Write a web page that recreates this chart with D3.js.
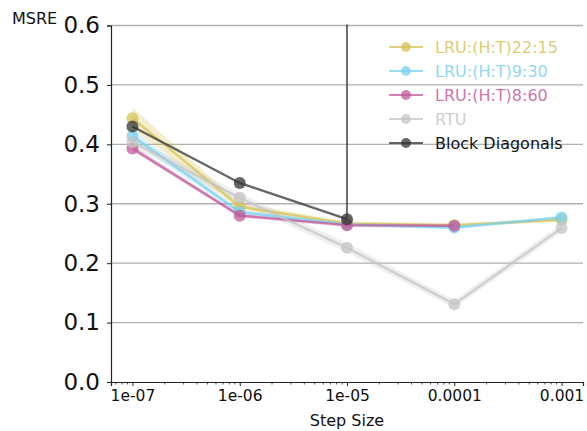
<!DOCTYPE html>
<html>
<head>
<meta charset="utf-8">
<script src="https://cdn.jsdelivr.net/npm/d3@7"></script>
<style>
  html, body { margin: 0; padding: 0; background: #fff; }
  svg { display: block; font-family: "DejaVu Sans", Verdana, sans-serif; }
</style>
</head>
<body>
<svg id="chart" width="587" height="431"></svg>
<script>
// Step sizes on the x axis
const stepSizes = [1e-7, 1e-6, 1e-5, 1e-4, 1e-3];
const xTickLabels = ["1e-07", "1e-06", "1e-05", "0.0001", "0.001"];
const yTicks = [0.0, 0.1, 0.2, 0.3, 0.4, 0.5, 0.6];

// Mean MSRE per step size, with lower / upper band
const lru2215 = [0.444, 0.295, 0.267, 0.264, 0.273];
const lru2215Lo = [0.426, 0.290, 0.264, 0.261, 0.270];
const lru2215Hi = [0.462, 0.301, 0.270, 0.267, 0.276];

const lru930 = [0.414, 0.286, 0.265, 0.260, 0.277];
const lru930Lo = [0.405, 0.282, 0.262, 0.257, 0.274];
const lru930Hi = [0.424, 0.290, 0.268, 0.263, 0.280];

const lru860 = [0.393, 0.280, 0.264, 0.263];
const lru860Lo = [0.389, 0.277, 0.261, 0.260];
const lru860Hi = [0.398, 0.283, 0.267, 0.266];

const rtu = [0.404, 0.310, 0.226, 0.131, 0.259];
const rtuLo = [0.396, 0.302, 0.218, 0.124, 0.252];
const rtuHi = [0.412, 0.318, 0.234, 0.138, 0.266];

const blockDiag = [0.430, 0.335, 0.274];
const blockDiagErrHi = [0.430, 0.335, 0.9];

const series = [
  { name: "LRU:(H:T)22:15", color: "#d6c254", v: lru2215, lo: lru2215Lo, hi: lru2215Hi },
  { name: "LRU:(H:T)9:30", color: "#78d0f0", v: lru930, lo: lru930Lo, hi: lru930Hi },
  { name: "LRU:(H:T)8:60", color: "#c2589a", v: lru860, lo: lru860Lo, hi: lru860Hi },
  { name: "RTU", color: "#c4c4c4", v: rtu, lo: rtuLo, hi: rtuHi },
  { name: "Block Diagonals", color: "#333333", v: blockDiag, lo: null, hi: null, errHi: blockDiagErrHi }
];

const W = 587, H = 431;
const margin = { left: 111, right: 4, top: 25.5, bottom: 49 };
const svg = d3.select("#chart");

const x = d3.scaleLog()
  .domain([Math.pow(10, -7.2), Math.pow(10, -2.8)])
  .range([margin.left, W - margin.right]);
const y = d3.scaleLinear()
  .domain([0, 0.6])
  .range([H - margin.bottom, margin.top]);

svg.append("defs").append("clipPath").attr("id", "plot")
  .append("rect")
  .attr("x", margin.left).attr("y", margin.top - 1)
  .attr("width", W - margin.right - margin.left)
  .attr("height", H - margin.bottom - margin.top + 1);

// horizontal grid
svg.append("g")
  .selectAll("line").data(yTicks.slice(1)).join("line")
  .attr("x1", margin.left).attr("x2", W - margin.right)
  .attr("y1", d => y(d)).attr("y2", d => y(d))
  .attr("stroke", "#b0b0b0").attr("stroke-width", 1.3);

// y axis
const yAxis = svg.append("g")
  .attr("transform", `translate(${margin.left},0)`)
  .call(d3.axisLeft(y).tickValues(yTicks).tickFormat(d3.format(".1f")).tickSize(4).tickPadding(7));
yAxis.select(".domain").attr("stroke", "#222").attr("stroke-width", 1.2);
yAxis.selectAll(".tick line").attr("stroke", "#222");
yAxis.selectAll("text").attr("font-size", 23).attr("fill", "#111")
  .attr("font-family", '"DejaVu Sans", Verdana, sans-serif');

// x axis with log minor ticks
const minorTicks = [];
for (let e = -8; e <= -3; e++) {
  for (let m = 2; m <= 9; m++) {
    const v = m * Math.pow(10, e);
    if (v >= x.domain()[0] && v <= x.domain()[1]) minorTicks.push(v);
  }
}
const xg = svg.append("g").attr("transform", `translate(0,${H - margin.bottom})`);
xg.selectAll("line.minor").data(minorTicks).join("line")
  .attr("class", "minor")
  .attr("x1", d => x(d)).attr("x2", d => x(d))
  .attr("y1", 0).attr("y2", 2.5)
  .attr("stroke", "#222").attr("stroke-width", 0.8);
const xAxis = xg.call(
  d3.axisBottom(x).tickValues(stepSizes).tickFormat((d, i) => xTickLabels[i]).tickSize(4).tickPadding(4)
);
xAxis.select(".domain").attr("stroke", "#222").attr("stroke-width", 1.2);
xAxis.selectAll(".tick line").attr("stroke", "#222");
xAxis.selectAll(".tick text").attr("font-size", 15.5).attr("fill", "#111")
  .attr("font-family", '"DejaVu Sans", Verdana, sans-serif');

// axis titles
svg.append("text")
  .attr("x", (x(1e-5))).attr("y", 426)
  .attr("text-anchor", "middle").attr("font-size", 16).attr("fill", "#111")
  .text("Step Size");
svg.append("text")
  .attr("x", 12).attr("y", 24)
  .attr("font-size", 16).attr("fill", "#111")
  .text("MSRE");

const plot = svg.append("g").attr("clip-path", "url(#plot)");

// confidence bands
series.forEach(s => {
  if (!s.lo) return;
  const pts = s.v.map((d, i) => ({ x: stepSizes[i], lo: s.lo[i], hi: s.hi[i] }));
  plot.append("path")
    .datum(pts)
    .attr("d", d3.area().x(d => x(d.x)).y0(d => y(d.lo)).y1(d => y(d.hi)))
    .attr("fill", s.color).attr("fill-opacity", 0.28);
});

// error bar on the last block-diagonal point
series.forEach(s => {
  if (!s.errHi) return;
  s.v.forEach((d, i) => {
    if (s.errHi[i] <= d) return;
    plot.append("line")
      .attr("x1", x(stepSizes[i])).attr("x2", x(stepSizes[i]))
      .attr("y1", y(d)).attr("y2", y(s.errHi[i]))
      .attr("stroke", s.color).attr("stroke-width", 2).attr("stroke-opacity", 0.7);
  });
});

// lines and markers
series.forEach(s => {
  const pts = s.v.map((d, i) => ({ x: stepSizes[i], y: d }));
  const g = plot.append("g");
  g.append("path").datum(pts)
    .attr("d", d3.line().x(d => x(d.x)).y(d => y(d.y)))
    .attr("fill", "none").attr("stroke", s.color)
    .attr("stroke-width", 2.4).attr("stroke-opacity", 0.75);
  g.selectAll("circle").data(pts).join("circle")
    .attr("cx", d => x(d.x)).attr("cy", d => y(d.y)).attr("r", 6)
    .attr("fill", s.color).attr("fill-opacity", 0.75);
});

// legend
const legend = svg.append("g").attr("transform", "translate(389,47)");
series.forEach((s, i) => {
  const row = legend.append("g").attr("transform", `translate(0,${i * 24})`);
  row.append("line").attr("x1", 0).attr("x2", 34).attr("y1", 0).attr("y2", 0)
    .attr("stroke", s.color).attr("stroke-width", 2.2).attr("stroke-opacity", 0.75);
  row.append("circle").attr("cx", 17).attr("cy", 0).attr("r", 5)
    .attr("fill", s.color).attr("fill-opacity", 0.75);
  row.append("text").attr("x", 46).attr("y", 5.5)
    .attr("font-size", 16)
    .attr("fill", s.name === "Block Diagonals" ? "#111" : s.color)
    .attr("fill-opacity", s.name === "Block Diagonals" ? 1 : 0.85)
    .text(s.name);
});
</script>
</body>
</html>
